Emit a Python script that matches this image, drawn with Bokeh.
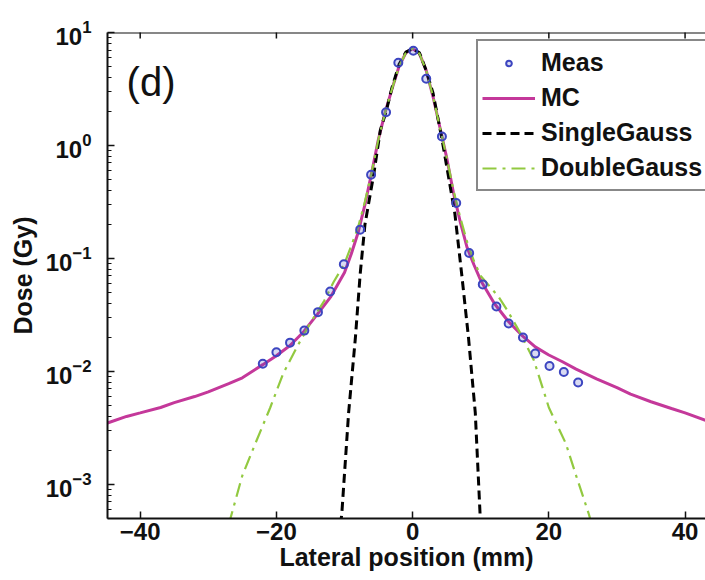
from bokeh.plotting import figure
from bokeh.models import (FixedTicker, Legend, LegendItem, Label, Span, Range1d)
from bokeh.embed import file_html
from bokeh.resources import INLINE
import math

# ---- data ----
meas_x = [-22.0, -20.0, -18.0, -15.9, -13.9, -12.1, -10.1, -7.7, -6.1, -3.9, -2.1, 0.1,
          2.0, 4.3, 6.4, 8.3, 10.3, 12.3, 14.1, 16.2, 18.0, 20.1, 22.2, 24.3]
meas_y = [0.0117, 0.0148, 0.018, 0.023, 0.0335, 0.051, 0.089, 0.18, 0.55, 1.97, 5.4, 6.9,
          3.9, 1.2, 0.31, 0.112, 0.059, 0.0376, 0.0266, 0.020, 0.0144, 0.0112, 0.0099, 0.0080]

mc_x = [-44.8, -42, -40, -37, -35, -32, -30, -27, -25, -22, -20, -18, -16, -14, -12, -10,
        -9, -8, -7, -6, -5, -4, -3, -2, -1, 0, 1, 2, 3, 4, 5, 6, 7, 8, 9, 10, 12, 14, 16,
        18, 20, 22, 24, 27, 30, 32, 35, 38, 40, 43]
mc_y = [0.0035, 0.0040, 0.0043, 0.0048, 0.0053, 0.0060, 0.0066, 0.0078, 0.0088, 0.0115,
        0.0138, 0.0170, 0.0225, 0.032, 0.046, 0.075, 0.11, 0.17, 0.30, 0.58, 1.15, 2.0,
        3.2, 5.0, 6.6, 7.2, 6.5, 4.6, 2.7, 1.45, 0.78, 0.38, 0.21, 0.125, 0.088, 0.064,
        0.040, 0.028, 0.021, 0.0165, 0.0140, 0.0122, 0.0105, 0.0086, 0.0072, 0.0063,
        0.0054, 0.0047, 0.0043, 0.0037]

sg_x = [-10.6, -10.4, -9.4, -8.4, -7.7, -7.0, -5.7, -4.75, -3.9, -3, -2, -1, 0, 1, 2, 3,
        4.26, 5.2, 6.2, 7.2, 8.2, 9.2, 9.9, 10.1]
sg_y = [0.00044, 0.00055, 0.0043, 0.020, 0.073, 0.20, 0.56, 1.36, 2.0, 3.3, 5.2, 6.7, 7.2,
        6.6, 4.6, 2.9, 1.18, 0.56, 0.25, 0.073, 0.020, 0.0043, 0.00055, 0.00044]

dg_x = [-27.0, -26.6, -25, -23.1, -20.9, -19.0, -17, -15, -13, -11.6, -10, -9, -8, -7, -6,
        -5, -4, -3, -2, -1, 0, 1, 2, 3, 4, 5, 6, 7, 8, 9, 10, 12.6, 14, 15.6, 17.8, 20,
        22.5, 24, 25.9, 26.3]
dg_y = [0.00044, 0.00054, 0.0012, 0.0023, 0.0048, 0.0096, 0.0164, 0.027, 0.042, 0.062,
        0.09, 0.13, 0.19, 0.32, 0.58, 1.15, 2.0, 3.2, 5.0, 6.6, 7.2, 6.5, 4.6, 2.7, 1.45,
        0.78, 0.40, 0.23, 0.14, 0.095, 0.07, 0.046, 0.034, 0.023, 0.0126, 0.0048, 0.0023,
        0.0012, 0.00054, 0.00044]

x_ticks = [-40, -20, 0, 20, 40]
y_ticks = [1e-3, 1e-2, 1e-1, 1e0, 1e1]
y_minor = [m * 10.0 ** e for e in range(-4, 1) for m in range(2, 10)]
Y_MIN, Y_MAX = 5e-4, 10.0

FONT = "Liberation Sans"
MC_COLOR = "#C4389A"
DG_COLOR = "#92C940"
MEAS_COLOR = "#3C45C0"

p = figure(width=705, height=580, output_backend="svg", toolbar_location=None,
           y_axis_type="log", x_range=Range1d(-44.8, 43.0), y_range=Range1d(Y_MIN, Y_MAX),
           min_border_left=107, min_border_right=0, min_border_top=32, min_border_bottom=62,
           background_fill_color="white", border_fill_color="white")
p.outline_line_color = None
p.grid.visible = False

r_mc = p.line(mc_x, mc_y, line_color=MC_COLOR, line_width=3)
r_sg = p.line(sg_x, sg_y, line_color="black", line_width=3, line_dash="9 5")
r_dg = p.line(dg_x, dg_y, line_color=DG_COLOR, line_width=2.2, line_dash="14 6 3 6")
r_meas = p.scatter(meas_x, meas_y, marker="circle", size=8, line_color=MEAS_COLOR,
                   line_width=2, fill_color=MEAS_COLOR, fill_alpha=0.2)

# top border with inward ticks (frame clips the outer half of each dash)
p.add_layout(Span(location=Y_MAX, dimension="width", line_color="#111", line_width=2))
p.scatter(x_ticks, [Y_MAX] * len(x_ticks), marker="dash", angle=math.pi / 2, size=12,
          line_color="#111", line_width=1.5)

# axes
for ax in (p.xaxis[0], p.yaxis[0]):
    ax.axis_line_width = 2
    ax.axis_line_color = "#111"
    ax.major_tick_line_color = "#111"
    ax.major_tick_line_width = 1.5
    ax.minor_tick_line_color = "#111"
    ax.major_tick_in = 7
    ax.major_tick_out = 0
    ax.minor_tick_in = 4
    ax.minor_tick_out = 0
    ax.major_label_text_font = FONT
    ax.major_label_text_font_style = "bold"
    ax.major_label_text_font_size = "24px"
    ax.major_label_text_color = "#111"
    ax.axis_label_text_font = FONT
    ax.axis_label_text_font_style = "bold"
    ax.axis_label_text_font_size = "25px"
    ax.axis_label_text_color = "#111"

p.xaxis[0].ticker = FixedTicker(ticks=x_ticks, minor_ticks=[])
p.xaxis[0].axis_label = "Lateral position (mm)"
p.xaxis[0].major_label_standoff = 4
p.xaxis[0].axis_label_standoff = 0

p.yaxis[0].ticker = FixedTicker(ticks=y_ticks, minor_ticks=y_minor)
p.yaxis[0].axis_label = "Dose (Gy)"
p.yaxis[0].major_label_standoff = 16
p.yaxis[0].axis_label_standoff = 6

# panel label
p.add_layout(Label(x=-42.0, y=3.68, text="(d)", text_font=FONT, text_font_size="40px",
                   text_baseline="middle", text_color="#111"))

legend = Legend(items=[LegendItem(label="Meas", renderers=[r_meas]),
                       LegendItem(label="MC", renderers=[r_mc]),
                       LegendItem(label="SingleGauss", renderers=[r_sg]),
                       LegendItem(label="DoubleGauss", renderers=[r_dg])],
                location=(369, 327), orientation="vertical",
                label_text_font=FONT, label_text_font_style="bold",
                label_text_font_size="25px", label_text_color="#111",
                label_height=35, label_standoff=6, glyph_width=53, glyph_height=14,
                spacing=0, padding=4, margin=0,
                border_line_color="#111", border_line_width=2,
                background_fill_color="white", background_fill_alpha=1.0)
p.add_layout(legend)

open("out.html", "w").write(file_html(p, INLINE))
